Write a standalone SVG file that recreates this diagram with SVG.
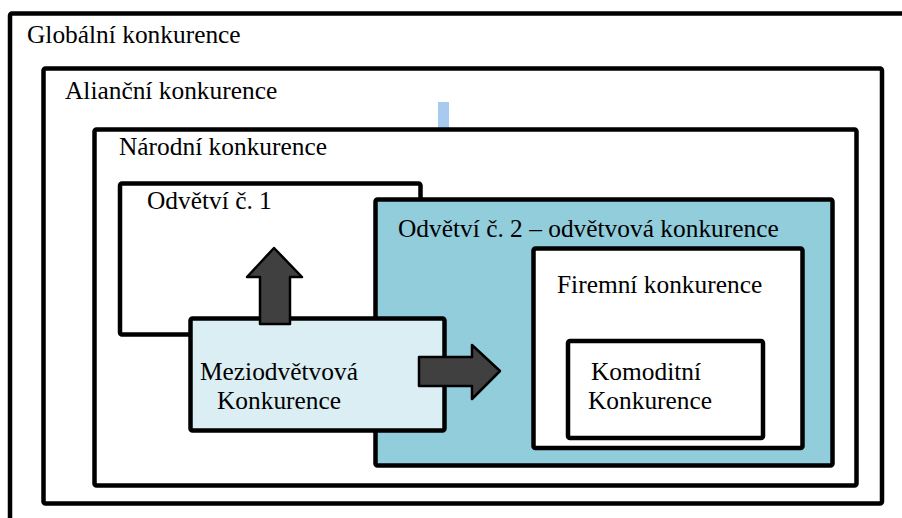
<svg xmlns="http://www.w3.org/2000/svg" width="902" height="518" viewBox="0 0 902 518">
  <style>
    .box { stroke: #000; stroke-width: 4.5; stroke-linejoin: round; }
    .white { fill: #ffffff; }
    .blue { fill: #92CDDC; }
    .pale { fill: #DAEEF3; }
    .lbl { font-family: "Liberation Serif", "Times New Roman", serif; font-size: 25.4px; fill: #000; }
    .arrow { fill: #404040; stroke: #000; stroke-width: 2.5; stroke-linejoin: round; }
  </style>
  <rect x="0" y="0" width="902" height="518" fill="#ffffff"/>
  <g id="globalni">
    <rect class="box white" x="10" y="13.5" width="905" height="520" rx="2"/>
    <text class="lbl" x="27" y="43">Globální konkurence</text>
  </g>
  <g id="alianci">
    <rect class="box white" x="43.5" y="68.5" width="838.5" height="435" rx="2"/>
    <text class="lbl" x="65" y="99">Alianční konkurence</text>
  </g>
  <rect id="tick" x="438" y="102" width="11" height="28" fill="#A8CAEE"/>
  <g id="narodni">
    <rect class="box white" x="94.5" y="129.5" width="762" height="356" rx="2"/>
    <text class="lbl" x="119" y="155">Národní konkurence</text>
  </g>
  <g id="odvetvi1">
    <rect class="box white" x="120" y="183.5" width="300.5" height="151" rx="2"/>
    <text class="lbl" x="147" y="209">Odvětví č. 1</text>
  </g>
  <g id="odvetvi2">
    <rect class="box blue" x="375.5" y="199.5" width="457" height="266" rx="2"/>
    <text class="lbl" x="398" y="237">Odvětví č. 2 – odvětvová konkurence</text>
  </g>
  <g id="firemni">
    <rect class="box white" x="533.5" y="248.5" width="269" height="199.5" rx="2"/>
    <text class="lbl" x="557" y="293">Firemní konkurence</text>
  </g>
  <g id="komoditni">
    <rect class="box white" x="568" y="341" width="195" height="97" rx="2"/>
    <text class="lbl" x="591" y="380">Komoditní</text>
    <text class="lbl" x="588" y="409">Konkurence</text>
  </g>
  <g id="meziodvetvova">
    <rect class="box pale" x="190.5" y="318.5" width="254" height="112" rx="2"/>
    <text class="lbl" x="200" y="380">Meziodvětvová</text>
    <text class="lbl" x="217" y="409">Konkurence</text>
  </g>
  <g id="connectors">
    <path class="arrow" d="M274,248 L302,277 L290,277 L290,324 L260,324 L260,277 L247,277 Z"/>
    <path class="arrow" d="M500,371 L472,399 L472,386 L419,386 L419,357 L472,357 L472,345 Z"/>
  </g>
</svg>
